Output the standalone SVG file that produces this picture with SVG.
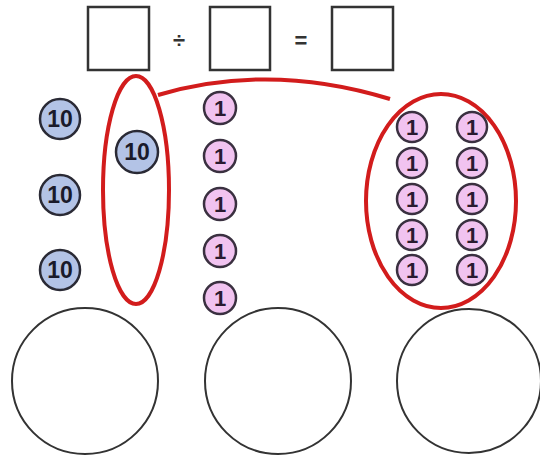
<svg xmlns="http://www.w3.org/2000/svg" width="540" height="462" viewBox="0 0 540 462">
<style>
.box{fill:none;stroke:#333;stroke-width:2.5}
.ten circle{fill:#b3c3e6;stroke:#2a2a35;stroke-width:2.5}
.ten text{font-family:"Liberation Sans",Arial,sans-serif;font-weight:bold;font-size:23px;fill:#1a1a2a;text-anchor:middle}
.one circle{fill:#f1c3f0;stroke:#3a3040;stroke-width:2.5}
.one text{font-family:"Liberation Sans",Arial,sans-serif;font-weight:bold;font-size:22px;fill:#2a1a30;text-anchor:middle}
.red{fill:none;stroke:#d21c1c;stroke-width:4}
.op{font-family:"Liberation Sans",Arial,sans-serif;font-weight:bold;font-size:22px;fill:#333;text-anchor:middle}
.big{fill:none;stroke:#333;stroke-width:2}
</style>
<rect width="540" height="462" fill="#fff"/>
<g id="equation">
<rect class="box" x="88" y="7" width="61" height="63"/>
<text class="op" x="179" y="48">÷</text>
<rect class="box" x="210" y="7" width="60" height="63"/>
<text class="op" x="301" y="48">=</text>
<rect class="box" x="332" y="7" width="61" height="63"/>
</g>
<g id="connectors">
<path class="red" d="M158,95 Q270,62 390,99" stroke-width="3.5"/>
</g>
<g id="group-left">
<ellipse class="red" cx="136" cy="190" rx="33" ry="114"/>
</g>
<g id="group-right">
<ellipse class="red" cx="441" cy="201" rx="75" ry="107"/>
</g>
<g id="ten1" class="ten"><circle cx="60" cy="119" r="20"/><text x="60" y="127">10</text></g>
<g id="ten2" class="ten"><circle cx="60" cy="195" r="20"/><text x="60" y="203">10</text></g>
<g id="ten3" class="ten"><circle cx="60" cy="270" r="20"/><text x="60" y="278">10</text></g>
<g id="ten4" class="ten"><circle cx="137" cy="152" r="21"/><text x="137" y="160">10</text></g>
<g id="ones-mid" class="one">
<circle cx="220" cy="108" r="16"/><text x="220" y="116">1</text>
<circle cx="220" cy="156" r="16"/><text x="220" y="164">1</text>
<circle cx="220" cy="204" r="16"/><text x="220" y="212">1</text>
<circle cx="220" cy="251" r="16"/><text x="220" y="259">1</text>
<circle cx="220" cy="298" r="16"/><text x="220" y="306">1</text>
</g>
<g id="ones-right" class="one">
<circle cx="412" cy="127" r="15"/><text x="412" y="135">1</text>
<circle cx="412" cy="163" r="15"/><text x="412" y="171">1</text>
<circle cx="412" cy="199" r="15"/><text x="412" y="207">1</text>
<circle cx="412" cy="235" r="15"/><text x="412" y="243">1</text>
<circle cx="412" cy="270" r="15"/><text x="412" y="278">1</text>
<circle cx="472" cy="127" r="15"/><text x="472" y="135">1</text>
<circle cx="472" cy="163" r="15"/><text x="472" y="171">1</text>
<circle cx="472" cy="199" r="15"/><text x="472" y="207">1</text>
<circle cx="472" cy="235" r="15"/><text x="472" y="243">1</text>
<circle cx="472" cy="270" r="15"/><text x="472" y="278">1</text>
</g>
<g id="answer-circles">
<circle class="big" cx="85" cy="381" r="73"/>
<circle class="big" cx="278" cy="381" r="73"/>
<circle class="big" cx="469" cy="381" r="72"/>
</g>
</svg>
